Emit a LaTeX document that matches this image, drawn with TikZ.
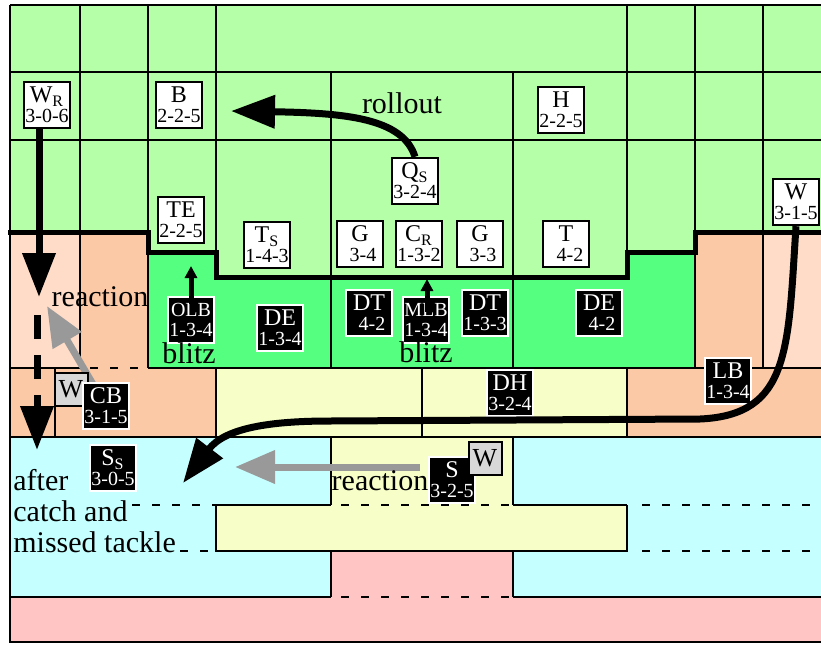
\documentclass[tikz,border=0pt]{standalone}
\usepackage{fontspec}
\setmainfont{Liberation Serif}
\usetikzlibrary{arrows.meta}
\definecolor{lgreen}{RGB}{180,255,168}
\definecolor{bgreen}{RGB}{85,255,128}
\definecolor{lpeach}{RGB}{254,220,200}
\definecolor{dpeach}{RGB}{252,201,166}
\definecolor{lyellow}{RGB}{247,254,200}
\definecolor{lblue}{RGB}{197,255,255}
\definecolor{lpink}{RGB}{255,197,197}
\definecolor{wgrey}{RGB}{216,216,216}
\definecolor{rgrey}{RGB}{153,153,153}
\newcommand\plbl[2]{{\fontsize{12}{10}\selectfont #1}\\#2}
\begin{document}
\begin{tikzpicture}[x=0.5pt,y=-0.5pt,
 grid/.style={line width=1pt},
 dgrid/.style={line width=1pt, dash pattern=on 4pt off 6pt},
 los/.style={line width=2.5pt, line join=miter},
 off/.style={draw=black, fill=white, line width=1.2pt, minimum width=23pt, minimum height=23pt, inner sep=0pt, align=center, font=\fontsize{10}{10}\selectfont},
 def/.style={draw=white, fill=black, text=white, line width=1pt, minimum width=23pt, minimum height=23pt, inner sep=0pt, align=center, font=\fontsize{10}{10}\selectfont},
 wbox/.style={draw=black, fill=wgrey, line width=1pt, minimum width=16.5pt, minimum height=16.5pt, inner sep=0pt, font=\fontsize{13}{13}\selectfont},
 lbl/.style={font=\fontsize{15}{15.5}\selectfont, inner sep=0pt},
 route/.style={line width=3.5pt, -{Triangle[length=22pt,width=16pt]}},
 react/.style={line width=3.5pt, draw=rgrey, -{Triangle[length=20pt,width=16pt]}, rgrey},
 short/.style={line width=2.5pt, -{Triangle[length=6pt,width=6pt]}}
]
\useasboundingbox (0,0) rectangle (821,644);
\begin{scope}
\clip (0,0) rectangle (821,644);
% fills
\fill[lgreen] (10,5) -- (830,5) -- (830,232) -- (695,232) -- (695,252) -- (627,252) -- (627,277) -- (216,277) -- (216,252) -- (148,252) -- (148,232) -- (10,232) -- cycle;
\fill[lpeach] (10,232) rectangle (80,368);
\fill[dpeach] (80,232) rectangle (148,368);
\fill[dpeach] (695,232) rectangle (763,368);
\fill[lpeach] (763,232) rectangle (830,368);
\fill[bgreen] (148,252) -- (216,252) -- (216,277) -- (627,277) -- (627,252) -- (695,252) -- (695,368) -- (148,368) -- cycle;
\fill[dpeach] (10,368) rectangle (216,437);
\fill[lyellow] (216,368) rectangle (627,437);
\fill[dpeach] (627,368) rectangle (830,437);
\fill[lblue] (10,437) rectangle (830,597);
\fill[lyellow] (331,437) -- (513,437) -- (513,505) -- (627,505) -- (627,551) -- (216,551) -- (216,505) -- (331,505) -- cycle;
\fill[lpink] (331,551) rectangle (513,597);
\fill[lpink] (10,597) rectangle (830,642);
% grid
\draw[grid] (10,5) -- (830,5);
\draw[grid] (10,5) -- (10,642) -- (830,642);
\draw[grid] (10,72) -- (830,72);
\draw[grid] (10,140) -- (830,140);
\foreach \x in {80,148} \draw[grid] (\x,5) -- (\x,368);
\draw[grid] (216,5) -- (216,252);
\draw[grid] (627,5) -- (627,252);
\foreach \x in {695,763} \draw[grid] (\x,5) -- (\x,368);
\foreach \x in {331,513} \draw[grid] (\x,72) -- (\x,368);
\draw[grid] (10,368) -- (80,368);
\draw[dgrid] (90,368) -- (148,368);
\draw[grid] (148,368) -- (830,368);
\draw[grid] (55,368) -- (55,437);
\foreach \x in {216,422,627} \draw[grid] (\x,368) -- (\x,437);
\draw[grid] (10,437) -- (830,437);
\draw[grid] (331,437) -- (331,505) (513,437) -- (513,505);
\draw[dgrid] (341,505) -- (513,505);
\draw[grid] (216,505) -- (331,505) (513,505) -- (627,505);
\draw[grid] (216,505) -- (216,551) -- (627,551) -- (627,505);
\draw[dgrid] (132,505) -- (216,505) (642,505) -- (830,505) (180,551) -- (216,551) (642,551) -- (830,551);
\draw[grid] (331,551) -- (331,597) (513,551) -- (513,597);
\draw[grid] (10,597) -- (331,597) (513,597) -- (830,597);
\draw[dgrid] (341,597) -- (513,597);
\draw[los] (8,232) -- (148,232) -- (148,252) -- (216,252) -- (216,277) -- (627,277) -- (627,252) -- (695,252) -- (695,232) -- (830,232);
% grey reaction arrows
\coordinate (g1s) at (94,386);
\coordinate (g1e) at (47,306);
\draw[react] (g1s) -- (g1e);
\coordinate (g2s) at (420,467);
\coordinate (g2e) at (235,467);
\draw[react] (g2s) -- (g2e);
% offense
\node[off] (WR) at (47,105) {\plbl{W\textsubscript{R}}{3-0-6}};
\node[off] (B) at (179,105) {\plbl{B}{2-2-5}};
\node[off] (H) at (561,110) {\plbl{H}{2-2-5}};
\node[off] (Q) at (415,181) {\plbl{Q\textsubscript{S}}{3-2-4}};
\node[off] (TE) at (181,220) {\plbl{TE}{2-2-5}};
\node[off] (TL) at (267,245) {\plbl{T\textsubscript{S}}{1-4-3}};
\node[off] (GL) at (360,244) {\plbl{G}{\hspace*{3pt}3-4}};
\node[off] (C) at (419,244) {\plbl{C\textsubscript{R}}{1-3-2}};
\node[off] (GR) at (480,244) {\plbl{G}{\hspace*{3pt}3-3}};
\node[off] (TR) at (566,244) {\plbl{T}{\hspace*{4pt}4-2}};
\node[off] (WW) at (796,202) {\plbl{W}{3-1-5}};
% defense
\node[def] (OLB) at (191,320) {\plbl{\fontsize{10}{10}\selectfont OLB}{1-3-4}};
\node[def] (DEL) at (280,328) {\plbl{DE}{1-3-4}};
\node[def] (DTL) at (369,313) {\plbl{DT}{\hspace*{3pt}4-2}};
\node[def] (MLB) at (426,320) {\plbl{\fontsize{10}{10}\selectfont MLB}{1-3-4}};
\node[def] (DTR) at (485,313) {\plbl{DT}{1-3-3}};
\node[def] (DER) at (599,313) {\plbl{DE}{\hspace*{3pt}4-2}};
\node[def] (LB) at (728,381) {\plbl{LB}{1-3-4}};
\node[def] (DH) at (510,393) {\plbl{DH}{3-2-4}};
\node[wbox] (WL) at (71,389) {W};
\node[def] (CB) at (106,406) {\plbl{CB}{3-1-5}};
\node[def] (SL) at (113,468) {\plbl{S\textsubscript{S}}{3-0-5}};
\node[def] (SR) at (452,480) {\plbl{S}{3-2-5}};
\node[wbox] (WR2) at (485,458) {W};
% routes
\coordinate (wrA) at (39,297);
\draw[route] (WR.south -| wrA) -- (wrA);
\coordinate (wrB) at (37,315);
\coordinate (wrC) at (37,450);
\draw[route, dash pattern=on 12pt off 8pt] (wrB) -- (wrC);
\coordinate (rollE) at (231,111);
\draw[route] (Q.north) .. controls (403,118) and (345,113) .. (rollE);
\coordinate (wEnd) at (183,483);
\draw[route] (WW.south) .. controls (788,350) and (790,415) .. (700,419) -- (330,421) .. controls (270,421) and (225,428) .. (wEnd);
\coordinate (olbT) at (191,266);
\draw[short] ([yshift=-4pt]OLB.north) -- (olbT);
\coordinate (mlbT) at (427,279);
\draw[short] ([yshift=-8pt]MLB.north -| mlbT) -- (mlbT);
% labels
\node[lbl] (tRoll) at (402,103) {rollout};
\node[lbl] (tReacL) at (100,297) {reaction};
\node[lbl] (tBlitzL) at (189,353) {blitz};
\node[lbl] (tBlitzM) at (426,352) {blitz};
\node[lbl] (tReacB) at (380,481) {reaction};
\node[lbl, align=left, anchor=north west] (tAfter) at (13,469) {after\\catch and\\missed tackle};
\end{scope}
\end{tikzpicture}
\end{document}
